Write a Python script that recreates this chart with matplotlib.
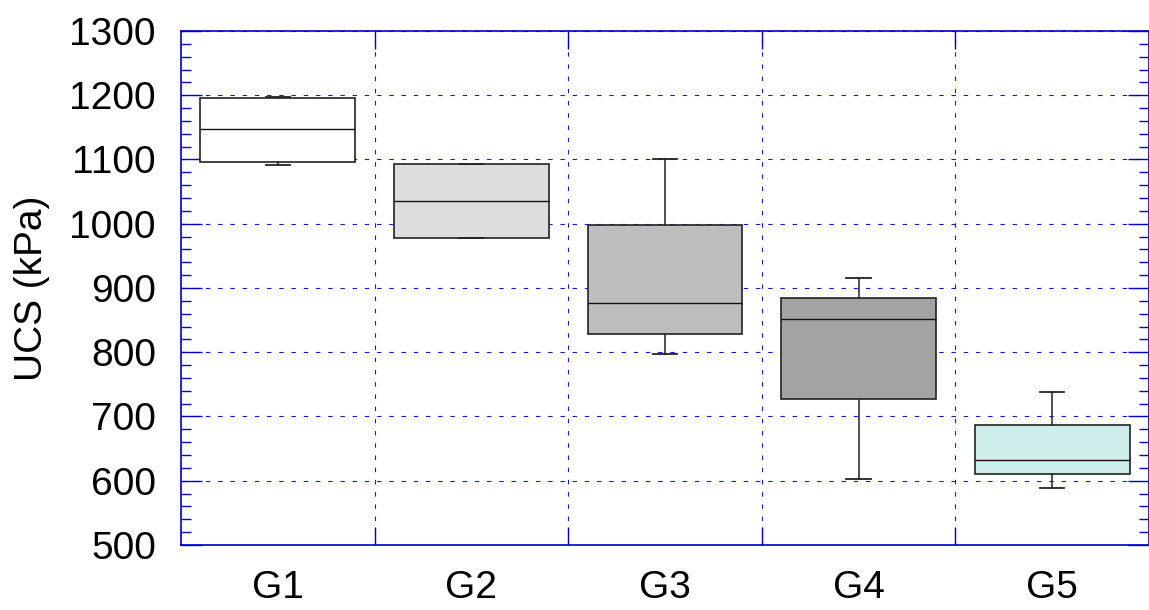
import matplotlib
matplotlib.use("Agg")
import matplotlib.pyplot as plt
from matplotlib.ticker import MultipleLocator, FixedLocator, NullFormatter

# group labels and box statistics (kPa)
groups = ["G1", "G2", "G3", "G4", "G5"]
whislo = [1091, 978, 797, 602, 588]
q1 = [1096, 978, 828, 727, 610]
med = [1148, 1035, 877, 851, 632]
q3 = [1195, 1093, 998, 884, 686]
whishi = [1197, 1093, 1101, 916, 738]
box_colors = ["#ffffff", "#dcdedd", "#bebebe", "#a3a3a3", "#cdeeea"]

plt.rcParams['font.family'] = ['Liberation Sans', 'DejaVu Sans']

fig = plt.figure(figsize=(11.49, 6.10), dpi=100)
ax = fig.add_axes([0.1575, 0.1066, 0.8425, 0.8426])

stats = []
for i, g in enumerate(groups):
    stats.append(dict(label=g, whislo=whislo[i], q1=q1[i], med=med[i],
                      q3=q3[i], whishi=whishi[i], fliers=[]))

bp = ax.bxp(stats, positions=range(1, 6), widths=0.8, capwidths=0.125,
            patch_artist=True, showfliers=False,
            boxprops=dict(edgecolor="#222222", linewidth=1.2),
            medianprops=dict(color="#111111", linewidth=1.0),
            whiskerprops=dict(color="#222222", linewidth=1.1),
            capprops=dict(color="#222222", linewidth=1.3))
for patch, c in zip(bp['boxes'], box_colors):
    patch.set_facecolor(c)

ax.set_xlim(0.5, 5.5)
ax.set_ylim(500, 1300)

# y ticks
ax.yaxis.set_major_locator(MultipleLocator(100))
ax.yaxis.set_minor_locator(MultipleLocator(20))
# x: grid/ticks between groups, labels at group centers
ax.xaxis.set_major_locator(FixedLocator([1.5, 2.5, 3.5, 4.5]))
ax.xaxis.set_major_formatter(NullFormatter())
ax.set_xticks([1, 2, 3, 4, 5], minor=True)
ax.set_xticklabels(groups, minor=True)

blue = "#0000cc"
ax.tick_params(axis='both', which='both', direction='in', color=blue)
ax.tick_params(axis='y', which='major', length=15, width=1.0, right=True,
               labelsize=28, pad=18)
ax.tick_params(axis='y', which='minor', length=7, width=1.0, right=True)
ax.tick_params(axis='x', which='major', length=13, width=1.0, top=True)
ax.tick_params(axis='x', which='minor', length=0, labelsize=28, pad=18)

for s in ax.spines.values():
    s.set_color(blue)
    s.set_linewidth(1.2)

ax.grid(True, which='major', color=blue, linewidth=0.8,
        linestyle=(0, (4, 7)), alpha=0.9)
ax.set_axisbelow(True)

ax.set_ylabel("UCS (kPa)", fontsize=28, labelpad=14)

fig.savefig("out.png", dpi=100)
